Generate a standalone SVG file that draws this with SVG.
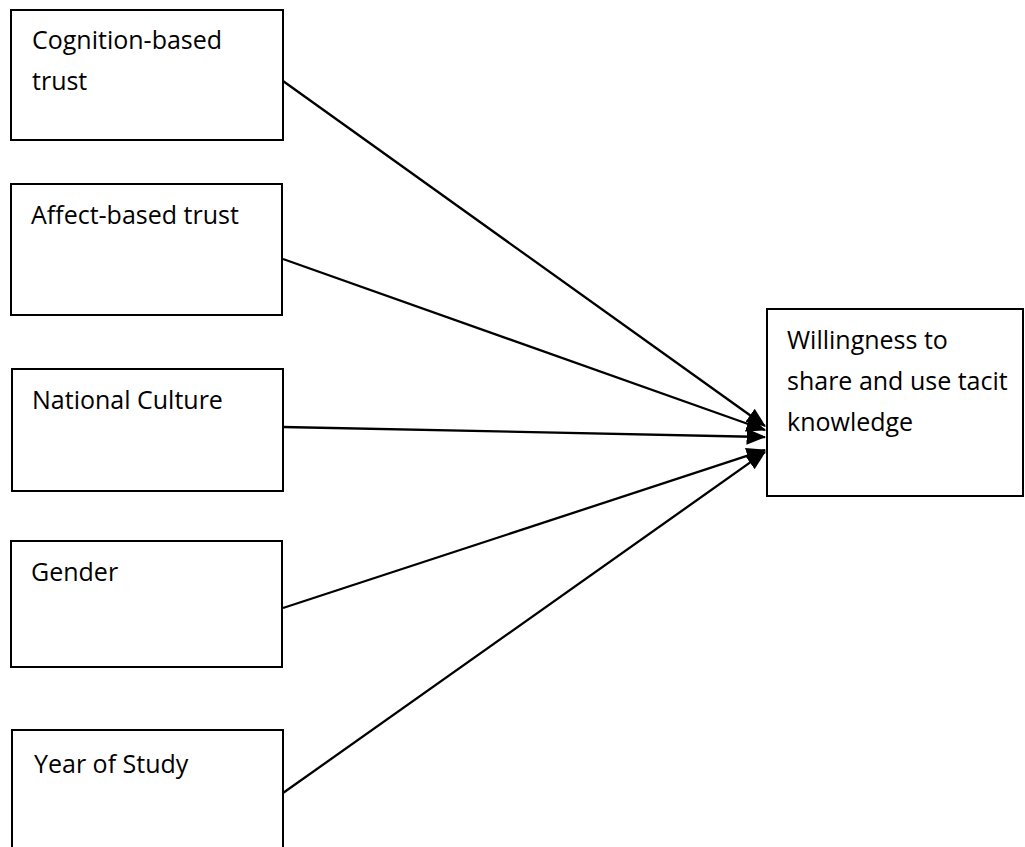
<svg xmlns="http://www.w3.org/2000/svg" width="1025" height="847" viewBox="0 0 1025 847">
<style>
.box{fill:#fff;stroke:#000;stroke-width:2}
.t{font-family:"Open Sans","Liberation Sans",sans-serif;font-size:25px;fill:#000}
.c{stroke:#000;stroke-width:2.3;fill:none;marker-end:url(#ah)}
</style>
<defs>
<marker id="ah" markerWidth="8.5" markerHeight="7" refX="8" refY="3.5" orient="auto" markerUnits="strokeWidth">
<path d="M0,0 L8.5,3.5 L0,7 z" fill="#000"/>
</marker>
</defs>
<rect width="1025" height="847" fill="#fff"/>
<g id="n1"><rect class="box" x="11" y="10" width="272" height="130"/><text class="t" x="32" y="49">Cognition-based</text><text class="t" x="32" y="90">trust</text></g>
<g id="n2"><rect class="box" x="11" y="184" width="271" height="131"/><text class="t" x="31" y="224">Affect-based trust</text></g>
<g id="n3"><rect class="box" x="12" y="369" width="271" height="122"/><text class="t" x="32" y="409">National Culture</text></g>
<g id="n4"><rect class="box" x="11" y="541" width="271" height="126"/><text class="t" x="31" y="581">Gender</text></g>
<g id="n5"><rect class="box" x="12" y="730" width="271" height="130"/><text class="t" x="34" y="773">Year of Study</text></g>
<g id="n6"><rect class="box" x="767" y="309" width="256" height="187"/><text class="t" x="787" y="349">Willingness to</text><text class="t" x="787" y="390">share and use tacit</text><text class="t" x="787" y="431">knowledge</text></g>
<g id="connectors">
<line class="c" x1="283" y1="81" x2="765" y2="426"/>
<line class="c" x1="283" y1="259" x2="765" y2="430"/>
<line class="c" x1="283" y1="427" x2="765" y2="437"/>
<line class="c" x1="283" y1="608" x2="765" y2="450"/>
<line class="c" x1="283" y1="793" x2="765" y2="452"/>
</g>
</svg>
